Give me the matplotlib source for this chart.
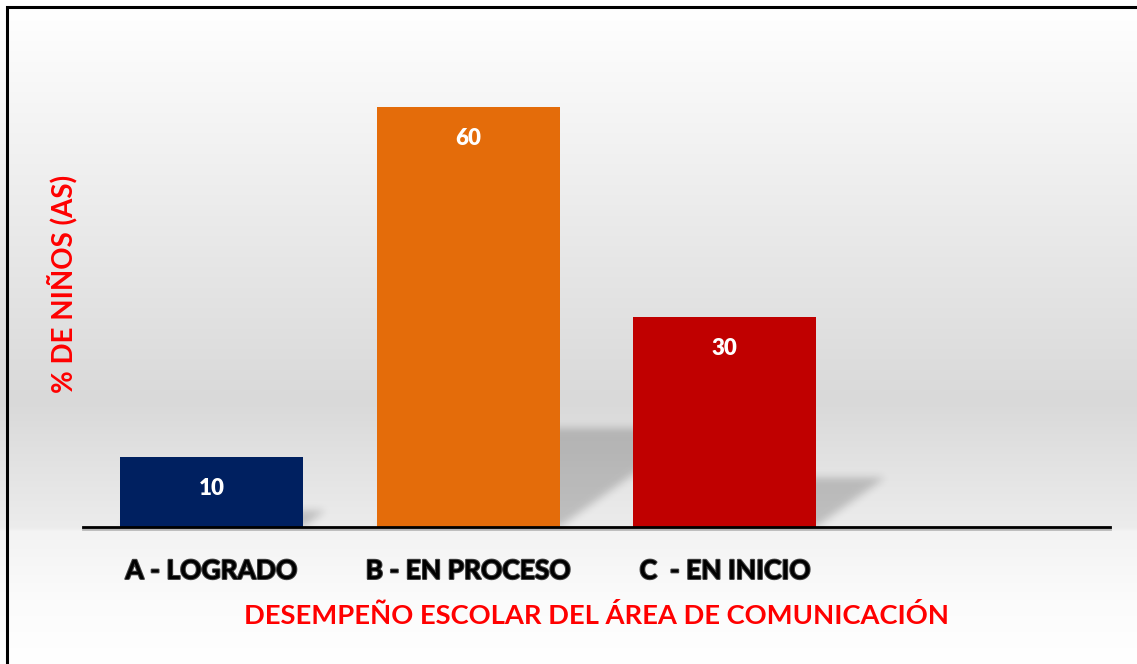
import numpy as np
import matplotlib
matplotlib.use("Agg")
import matplotlib.pyplot as plt
from matplotlib import patheffects as pe
from matplotlib.patches import Rectangle

categories = ["A - LOGRADO", "B - EN PROCESO", "C  - EN INICIO", ""]
values = [10, 60, 30]
colors = ["#002060", "#E46C0A", "#C00000"]
xlabel = "DESEMPEÑO ESCOLAR DEL ÁREA DE COMUNICACIÓN"
ylabel = "% DE NIÑOS (AS)"

W, H = 1137, 664
fig = plt.figure(figsize=(W / 100, H / 100), dpi=100)

# background gradient
bg = fig.add_axes([0, 0, 1, 1], zorder=-10)
ys = np.arange(H)
grey = np.interp(ys, [0, 20, 400, 527, 531, 600, 664], [255, 254, 217, 236, 243, 251, 255]) / 255.0
img = np.repeat(grey[:, None], 4, axis=1)
bg.imshow(np.dstack([img, img, img]), aspect="auto", extent=[0, 1, 0, 1], origin="upper")
bg.set_axis_off()

# border (left and top visible)
fig.patches.append(Rectangle((6.5 / W, -0.05), 1.2, (H - 6.5) / H + 0.05, transform=fig.transFigure,
                             fill=False, edgecolor="black", linewidth=2.2, zorder=5))

left, right, bottom_px, top_px = 83, 1110, 527, 37
ax = fig.add_axes([left / W, (H - bottom_px) / H, (right - left) / W, (bottom_px - top_px) / H])
ax.set_facecolor("none")
ymax = 70
ax.set_xlim(-0.5, 3.5)
ax.set_ylim(0, ymax)

x = np.arange(len(values))
bw = 0.712

# blurred perspective shadows rendered as raster
nx, ny = 1027 * 2, 490 * 2
gx = np.linspace(-0.5, 3.5, nx)
gy = np.linspace(0, ymax, ny)
GX, GY = np.meshgrid(gx, gy)
mask = np.zeros_like(GX)
for xi, v in zip(x, values):
    hs = 0.235 * v
    dx = 0.00897 * v
    s = dx / hs
    inside = (GY <= hs) & (GX >= xi - bw / 2 + s * GY) & (GX <= xi + bw / 2 + s * GY)
    mask = np.maximum(mask, inside.astype(float))
sig = 8.0
k = np.arange(-30, 31)
ker = np.exp(-k ** 2 / (2 * sig ** 2)); ker /= ker.sum()
mask = np.apply_along_axis(lambda r: np.convolve(r, ker, mode="same"), 1, mask)
mask = np.apply_along_axis(lambda c: np.convolve(c, ker, mode="same"), 0, mask)
rgba = np.zeros((ny, nx, 4))
rgba[..., 3] = 0.19 * mask
ax.imshow(rgba, extent=[-0.5, 3.5, 0, ymax], origin="lower", aspect="auto", zorder=1,
          interpolation="bilinear")

bars = ax.bar(x, values, width=bw, color=colors, zorder=2)
for xi, v in zip(x, values):
    ax.text(xi, v - 4.15, str(v), ha="center", va="center_baseline", color="white",
            fontsize=16, fontweight="heavy", family="Lato", zorder=3)

for sp in ["top", "right", "left"]:
    ax.spines[sp].set_visible(False)
ax.spines["bottom"].set_linewidth(2)
ax.spines["bottom"].set_color("black")
ax.spines["bottom"].set_zorder(4)
ax.spines["bottom"].set_path_effects([pe.SimpleLineShadow(offset=(0, -1.5), shadow_color="gray", alpha=0.5), pe.Normal()])
ax.set_yticks([])
ax.set_xticks(range(len(categories)))
ax.set_xticklabels(categories, fontsize=19, fontweight="bold", family="Lato", color="black")
ax.tick_params(axis="x", length=0, pad=23)
for t in ax.get_xticklabels():
    t.set_path_effects([pe.withStroke(linewidth=1.5, foreground="#444444")])

fig.text(597 / W, 1 - 615 / H, xlabel, ha="center", va="center", color="#FF0000",
         fontsize=19.7, fontweight="bold", family="Lato")
fig.text(62 / W, 1 - 284 / H, ylabel, ha="center", va="center", rotation=90, color="#FF0000",
         fontsize=19.9, fontweight="bold", family="Lato")

fig.savefig("out.png", dpi=100)
